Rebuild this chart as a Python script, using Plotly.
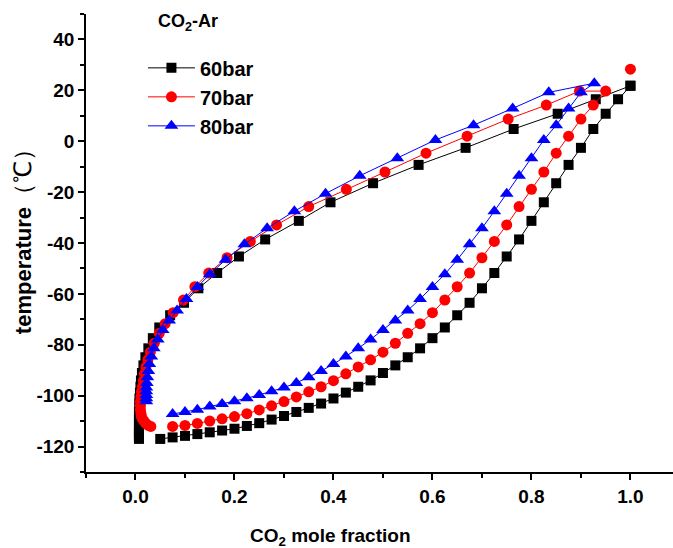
import plotly.graph_objects as go

# ---------------- data ----------------
# 60 bar: liquid (bubble) curve, x step 0.025 from 0.05 to 1.0
liq60_x = [0.050, 0.075, 0.100, 0.125, 0.150, 0.175, 0.200, 0.225, 0.250, 0.275,
           0.300, 0.325, 0.350, 0.375, 0.400, 0.425, 0.450, 0.475, 0.500, 0.525,
           0.550, 0.575, 0.600, 0.625, 0.650, 0.675, 0.700, 0.725, 0.750, 0.775,
           0.800, 0.825, 0.850, 0.875, 0.900, 0.925, 0.950, 0.975, 1.000]
liq60_T = [-117.0, -116.4, -115.8, -115.1, -114.4, -113.7, -113.0, -111.9, -110.8, -109.4,
           -108.0, -106.4, -104.8, -103.1, -101.1, -98.8, -96.5, -94.0, -91.1, -88.1,
           -84.9, -81.4, -77.4, -73.2, -68.4, -63.5, -57.8, -51.8, -45.3, -38.6,
           -31.3, -24.0, -16.5, -9.3, -2.6, 4.8, 10.8, 16.5, 21.8]
# 60 bar: vapour (dew) curve
vap60_x = [0.007, 0.007, 0.007, 0.007, 0.007, 0.007, 0.007, 0.007, 0.007, 0.007,
           0.007, 0.007, 0.008, 0.008, 0.008, 0.009, 0.010, 0.011, 0.013, 0.016,
           0.020, 0.026, 0.035, 0.048, 0.070, 0.098, 0.127, 0.165, 0.209, 0.262,
           0.330, 0.394, 0.480, 0.572, 0.667, 0.764, 0.853, 0.930, 1.000]
vap60_T = liq60_T

# 70 bar
liq70_x = [0.075, 0.100, 0.125, 0.150, 0.175, 0.200, 0.225, 0.250, 0.275, 0.300,
           0.325, 0.350, 0.375, 0.400, 0.425, 0.450, 0.475, 0.500, 0.525, 0.550,
           0.575, 0.600, 0.625, 0.650, 0.675, 0.700, 0.725, 0.750, 0.775, 0.800,
           0.825, 0.850, 0.875, 0.900, 0.925, 0.950]
liq70_T = [-112.1, -111.7, -110.9, -110.0, -109.1, -108.2, -107.1, -105.6, -104.0, -102.3,
           -100.5, -98.5, -96.5, -94.1, -91.4, -88.7, -85.9, -82.9, -79.4, -75.5,
           -71.7, -67.4, -62.4, -57.2, -51.8, -45.8, -39.4, -32.9, -25.7, -18.9,
           -12.1, -4.7, 2.0, 8.7, 14.2, 19.7]
vap70_x = [0.031, 0.026, 0.021, 0.017, 0.014, 0.012, 0.011, 0.010, 0.010, 0.010,
           0.011, 0.012, 0.014, 0.016, 0.018, 0.021, 0.025, 0.030, 0.038, 0.048,
           0.060, 0.076, 0.097, 0.120, 0.148, 0.185, 0.232, 0.285, 0.350, 0.426,
           0.504, 0.587, 0.670, 0.753, 0.830, 0.897]
vap70_T = liq70_T
pure70_x = [1.0]
pure70_T = [28.3]

# 80 bar
liq80_x = [0.075, 0.100, 0.125, 0.150, 0.175, 0.200, 0.225, 0.250, 0.275, 0.300,
           0.325, 0.350, 0.375, 0.400, 0.425, 0.450, 0.475, 0.500, 0.525, 0.550,
           0.575, 0.600, 0.625, 0.650, 0.675, 0.700, 0.725, 0.750, 0.775, 0.800,
           0.825, 0.850, 0.875, 0.900, 0.927]
liq80_T = [-107.2, -106.4, -105.5, -104.3, -103.3, -102.2, -101.0, -99.7, -98.3, -96.8,
           -95.0, -92.8, -90.3, -87.6, -84.6, -81.4, -77.9, -74.2, -70.5, -66.5,
           -62.0, -57.3, -52.3, -46.6, -40.5, -34.2, -27.5, -20.6, -13.6, -6.7,
           0.5, 6.3, 12.9, 19.2, 22.8]
vap80_x = [0.022, 0.022, 0.022, 0.022, 0.022, 0.023, 0.024, 0.026, 0.028, 0.032,
           0.037, 0.045, 0.055, 0.068, 0.084, 0.103, 0.125, 0.150, 0.182, 0.220,
           0.266, 0.321, 0.384, 0.453, 0.529, 0.606, 0.683, 0.762, 0.835]
vap80_T = [-102.2, -101.0, -99.7, -98.3, -96.8, -95.0, -92.8, -90.3, -87.6, -84.6,
           -81.4, -77.9, -74.2, -70.5, -66.5, -62.0, -57.3, -52.3, -46.6, -40.5,
           -34.2, -27.5, -20.6, -13.6, -6.7, 0.5, 6.3, 12.9, 19.2]

series_names = ["60bar", "70bar", "80bar"]
series_colors = ["black", "#ff0000", "#0000ff"]
series_symbols = ["square", "circle", "triangle-up"]
series_sizes = [10, 11, 12]

y_tickvals = [-120, -100, -80, -60, -40, -20, 0, 20, 40]
y_ticktext = ["-120", "-100", "-80", "-60", "-40", "-20", "0", "20", "40"]
x_tickvals = [0.0, 0.2, 0.4, 0.6, 0.8, 1.0]
x_ticktext = ["0.0", "0.2", "0.4", "0.6", "0.8", "1.0"]

FONT = "Arial, 'Liberation Sans', sans-serif"

# ---------------- figure ----------------
fig = go.Figure()

curves = [
    (liq60_x, liq60_T, vap60_x, vap60_T),
    (liq70_x, liq70_T, vap70_x, vap70_T),
    (liq80_x, liq80_T, vap80_x, vap80_T),
]
for i, (lx, lT, vx, vT) in enumerate(curves):
    xs = list(lx) + list(reversed(vx))
    ts = list(lT) + list(reversed(vT))
    fig.add_trace(go.Scatter(
        x=xs, y=ts, mode="lines+markers", name=series_names[i],
        line=dict(color=series_colors[i], width=1),
        marker=dict(symbol=series_symbols[i], size=series_sizes[i],
                    color=series_colors[i], line=dict(width=0)),
    ))
    if i == 1:
        fig.add_trace(go.Scatter(
            x=pure70_x, y=pure70_T, mode="markers", showlegend=False,
            marker=dict(symbol="circle", size=series_sizes[1],
                        color=series_colors[1], line=dict(width=0)),
        ))

axis_common = dict(
    showline=True, linecolor="black", linewidth=1.5, mirror=False,
    ticks="outside", ticklen=6, tickwidth=1.5, tickcolor="black",
    showgrid=False, zeroline=False,
    tickfont=dict(family=FONT, size=19, color="black", weight="bold"),
)

fig.update_layout(
    width=673, height=548,
    margin=dict(l=86, r=0, t=14, b=76),
    paper_bgcolor="white", plot_bgcolor="white",
    font=dict(family=FONT, color="black"),
    xaxis=dict(
        range=[-0.1, 1.086], tickmode="array", tickvals=x_tickvals, ticktext=x_ticktext,
        minor=dict(tickmode="linear", tick0=0, dtick=0.1, ticks="outside",
                   ticklen=4, tickwidth=1.5, tickcolor="black"),
        **axis_common,
    ),
    yaxis=dict(
        range=[-130, 50], tickmode="array", tickvals=y_tickvals, ticktext=y_ticktext,
        minor=dict(tickmode="linear", tick0=0, dtick=10, ticks="outside",
                   ticklen=4, tickwidth=1.5, tickcolor="black"),
        **axis_common,
    ),
    legend=dict(
        x=0.097, y=0.925, xanchor="left", yanchor="top",
        bgcolor="rgba(0,0,0,0)", borderwidth=0,
        font=dict(family=FONT, size=20, color="black", weight="bold"),
        itemwidth=47, tracegroupgap=0,
    ),
    annotations=[
        dict(text="<b>CO<sub>2</sub>-Ar</b>", x=0.12, y=0.982, xref="paper", yref="paper",
             xanchor="left", yanchor="middle", showarrow=False,
             font=dict(family=FONT, size=18, color="black")),
        dict(text="<b>CO<sub>2</sub> mole fraction</b>", x=0.4157, y=-0.141,
             xref="paper", yref="paper", xanchor="center", yanchor="middle",
             showarrow=False, font=dict(family=FONT, size=19, color="black")),
        dict(text="<b>temperature</b><span style='font-size:24px'>（℃）</span>",
             x=-0.109, y=0.515, xref="paper", yref="paper", xanchor="center",
             yanchor="middle", textangle=-90, showarrow=False,
             font=dict(family=FONT, size=22, color="black")),
    ],
)

fig.write_html("out.html")
